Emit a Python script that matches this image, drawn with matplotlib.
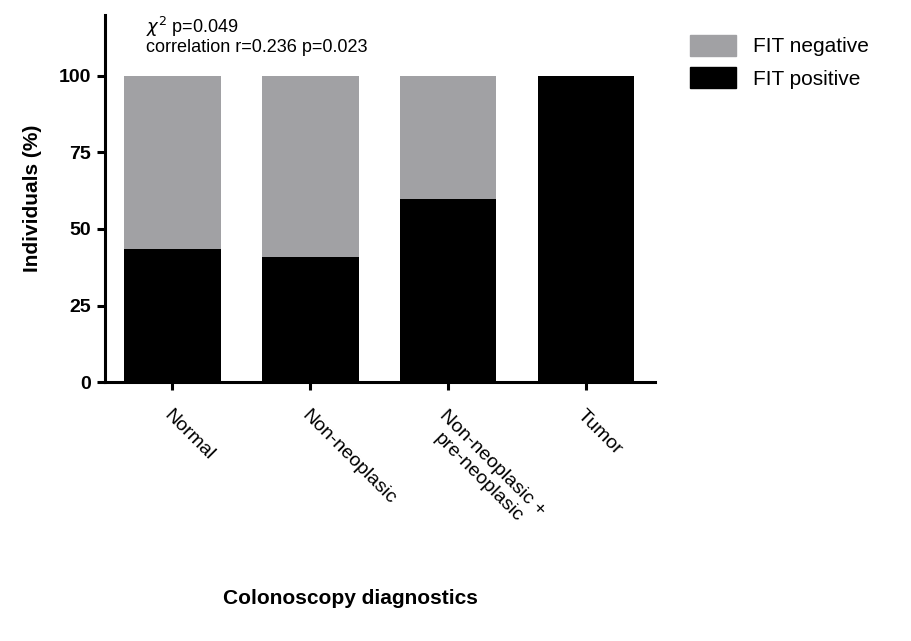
import numpy as np
import matplotlib
matplotlib.use('Agg')
import matplotlib.pyplot as plt
from matplotlib.patches import Patch

# data
categories = ['Normal', 'Non-neoplasic', 'Non-neoplasic +\npre-neoplasic', 'Tumor']
fit_positive = [43.6, 40.7, 59.7, 100.0]
fit_negative = [56.4, 59.3, 40.3, 0.0]
yticks = [0, 25, 50, 75, 100]

plt.rcParams['font.family'] = ['Liberation Sans', 'DejaVu Sans']

fig = plt.figure(figsize=(9.11, 6.41), dpi=100)
ax = fig.add_axes([0.115, 0.404, 0.604, 0.573])

x = np.arange(len(categories))
ax.bar(x, fit_positive, width=0.7, color='black')
ax.bar(x, fit_negative, width=0.7, bottom=fit_positive, color='#a1a1a4')

ax.set_xlim(-0.49, 3.5)
ax.set_ylim(0, 120)
ax.set_yticks(yticks)
ax.set_yticklabels([str(t) for t in yticks], fontsize=14, fontweight='bold')
ax.set_xticks(x)
ax.set_xticklabels(categories, rotation=-45, ha='left', va='top',
                   rotation_mode='anchor', fontsize=14, multialignment='center')

for s in ['top', 'right']:
    ax.spines[s].set_visible(False)
for s in ['left', 'bottom']:
    ax.spines[s].set_linewidth(2.2)
ax.tick_params(width=2.2, length=6, pad=4)
ax.tick_params(axis='x', pad=12)

ax.set_ylabel('Individuals (%)', fontsize=15, fontweight='bold', labelpad=12)
fig.text(0.385, 0.067, 'Colonoscopy diagnostics', fontsize=15,
         fontweight='bold', ha='center', va='center')

ax.text(0.075, 1.0, r'$\chi^2$ p=0.049', transform=ax.transAxes, fontsize=13,
        va='top')
ax.text(0.075, 0.935, 'correlation r=0.236 p=0.023', transform=ax.transAxes,
        fontsize=13, va='top')

handles = [Patch(color='#a1a1a4', label='FIT negative'),
           Patch(color='black', label='FIT positive')]
fig.legend(handles=handles, loc='upper left', bbox_to_anchor=(0.737, 0.975),
           frameon=False, fontsize=15, handlelength=2.2, handleheight=1.2,
           labelspacing=0.5)

plt.savefig('out.png')
